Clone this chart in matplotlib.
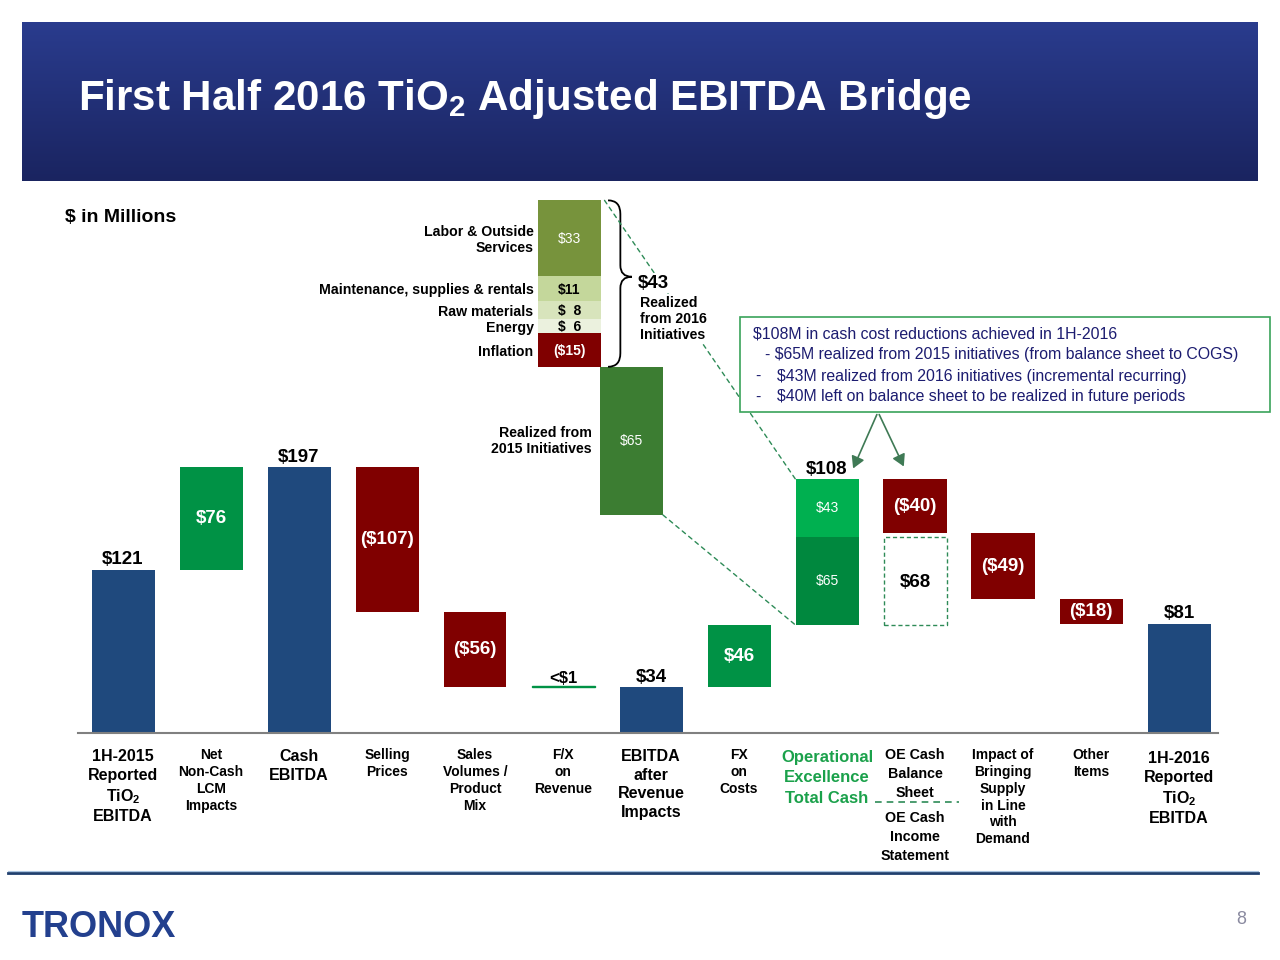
import numpy as np
import matplotlib
matplotlib.use("Agg")
import matplotlib.pyplot as plt
from matplotlib.patches import Rectangle, PathPatch, ConnectionPatch, FancyArrowPatch
from matplotlib.path import Path
from matplotlib.transforms import Affine2D, blended_transform_factory
from matplotlib.colors import LinearSegmentedColormap

plt.rcParams['font.family'] = ['Liberation Sans', 'DejaVu Sans']
plt.rcParams['mathtext.fontset'] = 'custom'
plt.rcParams['mathtext.rm'] = 'Liberation Sans'
plt.rcParams['mathtext.bf'] = 'Liberation Sans:bold'

# ---------------- data ----------------
categories = [
    "1H-2015\nReported\nTiO$_\\mathbf{2}$\nEBITDA",
    "Net\nNon-Cash\nLCM\nImpacts",
    "Cash\nEBITDA",
    "Selling\nPrices",
    "Sales\nVolumes /\nProduct\nMix",
    "F/X\non\nRevenue",
    "EBITDA\nafter\nRevenue\nImpacts",
    "FX\non\nCosts",
    "Operational\nExcellence\nTotal Cash",
    "OE Cash\nBalance\nSheet",
    "Impact of\nBringing\nSupply\nin Line\nwith\nDemand",
    "Other\nItems",
    "1H-2016\nReported\nTiO$_\\mathbf{2}$\nEBITDA",
]
kinds = ['total', 'delta', 'total', 'delta', 'delta', 'delta', 'total',
         'delta', 'stack', 'delta', 'delta', 'delta', 'total']
values = [121, 76, 197, -107, -56, 0.5, 34, 46, 108, -40, -49, -18, 81]
value_labels = ['$121', '$76', '$197', '($107)', '($56)', '<$1', '$34',
                '$46', '$108', '($40)', '($49)', '($18)', '$81']
oe_parts = [65, 43]
oe_part_labels = ['$65', '$43']
oe_income_statement = 68
oe_income_label = '$68'

breakdown_names = ['Labor & Outside\nServices', 'Maintenance, supplies & rentals',
                   'Raw materials', 'Energy', 'Inflation']
breakdown_values = [33, 11, 8, 6, -15]
breakdown_labels = ['$33', '$11', '$  8', '$  6', '($15)']
initiatives_2015 = 65
initiatives_2015_label = '$65'
initiatives_2016_label = '$43'

box_lines = ["$108M in cash cost reductions achieved in 1H-2016",
             "- $65M realized from 2015 initiatives (from balance sheet to COGS)",
             "$43M realized from 2016 initiatives (incremental recurring)",
             "$40M left on balance sheet to be realized in future periods"]

# ---------------- style ----------------
NAVY = '#1F497D'
GREEN = '#009245'
RED = '#800000'
OE_DARK = '#00883E'
OE_LIGHT = '#00B050'
INIT15 = '#3C7D32'
BREAK_COLORS = ['#77933C', '#C4D79B', '#D8E4BC', '#EBF1DE', RED]
BREAK_TEXT = ['white', 'black', 'black', 'black', 'white']
BREAK_WEIGHT = ['normal', 'bold', 'bold', 'bold', 'bold']
DASH_GREEN = '#2E8B57'
W, H = 1280, 960

fig = plt.figure(figsize=(12.8, 9.6), dpi=100)
PX = Affine2D().scale(1 / W, -1 / H).translate(0, 1) + fig.transFigure

def frac_rect(l, t, r, b):
    return [l / W, 1 - b / H, (r - l) / W, (b - t) / H]

# title band
tax = fig.add_axes(frac_rect(22, 22, 1258, 181))
grad = np.linspace(0, 1, 256).reshape(-1, 1)
cmap = LinearSegmentedColormap.from_list('band', ['#2A3C8E', '#1A2460'])
tax.imshow(grad, aspect='auto', cmap=cmap, extent=(0, 1, 0, 1))
tax.axis('off')
fig.text(78, 110, "First Half 2016 TiO$_\\mathbf{2}$ Adjusted EBITDA Bridge",
         transform=PX, color='white', fontsize=30.3, fontweight='bold', va='baseline')

fig.text(65, 217, "$ in Millions", transform=PX, fontsize=14, fontweight='bold', va='center')

# main axes: x index i -> pixel 123 + 88 i ; y value -> 733 - 1.35 v
L, R, B, T = 78, 1218, 733, 190
ax = fig.add_axes(frac_rect(L, T, R, B))
ax.set_xlim((L - 123) / 88, (R - 123) / 88)
ax.set_ylim(0, (B - T) / 1.35)
ax.patch.set_alpha(0)
for s in ['top', 'right', 'left']:
    ax.spines[s].set_visible(False)
ax.spines['bottom'].set_color('#808080')
ax.spines['bottom'].set_linewidth(1.5)
ax.set_xticks([])
ax.set_yticks([])

bw = 63 / 88
running = 0
oe_index = kinds.index('stack')
oe_base = 0
for i, (k, v, lab) in enumerate(zip(kinds, values, value_labels)):
    if k == 'total':
        ax.bar(i, v, bw, bottom=0, color=NAVY)
        ax.text(i, v + 1, lab, ha='center', va='bottom', fontsize=13.5, fontweight='bold')
        running = v
    elif k == 'stack':
        base = running
        cols = [OE_DARK, OE_LIGHT]
        for p, pl, c in zip(oe_parts, oe_part_labels, cols):
            ax.bar(i, p, bw, bottom=base, color=c)
            ax.text(i, base + p / 2, pl, ha='center', va='center', color='white', fontsize=10)
            base += p
        oe_base = running
        running = base
        ax.text(i, running + 1, lab, ha='center', va='bottom', fontsize=13.5, fontweight='bold')
    else:
        if abs(v) < 1:
            ax.bar(i, v, bw, bottom=running, color=GREEN, edgecolor=GREEN, linewidth=1)
            ax.text(i, running + 1, lab, ha='center', va='bottom', fontsize=12, fontweight='bold')
        else:
            bot = running if v > 0 else running + v
            ax.bar(i, abs(v), bw, bottom=bot, color=GREEN if v > 0 else RED)
            ax.text(i, bot + abs(v) / 2, lab, ha='center', va='center', color='white',
                    fontsize=13.5, fontweight='bold')
        running += v
        if i == oe_index + 1:
            ax.add_patch(Rectangle((i - bw / 2, oe_base), bw, oe_income_statement - 3,
                                   fill=False, edgecolor=DASH_GREEN, linestyle=(0, (3, 2)), lw=1))
            ax.text(i, oe_base + (oe_income_statement - 3) / 2 - 1, oe_income_label, ha='center',
                    va='center', fontsize=13.5, fontweight='bold')

# category labels
xt = blended_transform_factory(ax.transData, PX)
label_style = {
    0: (749, 11.5, 'black', 1.3), 2: (749, 11.5, 'black', 1.3), 6: (749, 11.5, 'black', 1.3),
    8: (750, 12, '#1BA14B', 1.44), 9: (748, 10.3, 'black', 1.44),
    12: (751, 11.5, 'black', 1.3),
}
for i, c in enumerate(categories):
    top, fs, col, ls = label_style.get(i, (748, 10, 'black', 1.26))
    ax.text(i, top, c, transform=xt, ha='center', va='top', fontsize=fs, color=col,
            fontweight='bold', linespacing=ls)
ax.text(oe_index + 1, 811, "OE Cash\nIncome\nStatement", transform=xt, ha='center', va='top',
        fontsize=10.3, fontweight='bold', linespacing=1.44)
ax.plot([oe_index + 0.55, oe_index + 1.5], [802, 802], transform=xt, color=DASH_GREEN,
        lw=1.2, linestyle=(0, (4, 3)), clip_on=False)

# inset axes for initiatives breakdown: y value -> 515 - 2.28 v
ax2 = fig.add_axes(frac_rect(L, 190, R, 515))
ax2.set_xlim(ax.get_xlim())
ax2.set_ylim(0, (515 - 190) / 2.28)
ax2.axis('off')
ax2.patch.set_alpha(0)

xb = (569.5 - 123) / 88
xi = (631.5 - 123) / 88
ax2.bar(xi, initiatives_2015, bw, color=INIT15)
ax2.text(xi, initiatives_2015 * 0.5, initiatives_2015_label, ha='center', va='center',
         color='white', fontsize=10)
ax2.text(xi - bw / 2 - 0.09, initiatives_2015 * 0.5, "Realized from\n2015 Initiatives",
         ha='right', va='center', fontsize=10.2, fontweight='bold', linespacing=1.15)

neg = sum(-v for v in breakdown_values if v < 0)
pos_base = initiatives_2015 + neg
seg = {}
b = pos_base
for idx in range(len(breakdown_values) - 1, -1, -1):
    v = breakdown_values[idx]
    if v >= 0:
        seg[idx] = (b, v)
        b += v
neg_top = pos_base
for idx, v in enumerate(breakdown_values):
    if v < 0:
        seg[idx] = (neg_top + v, -v)
        neg_top += v
stack_top = b
for idx, (bot, h) in seg.items():
    ax2.bar(xb, h, bw, bottom=bot, color=BREAK_COLORS[idx])
    ax2.text(xb, bot + h / 2 - 0.6, breakdown_labels[idx], ha='center', va='center',
             color=BREAK_TEXT[idx], fontsize=10, fontweight=BREAK_WEIGHT[idx])
    ax2.text(xb - bw / 2 - 0.05, bot + h / 2 - 0.9, breakdown_names[idx],
             ha='right', va='center', fontsize=10.2, fontweight='bold', linespacing=1.15)

# brace
xr = xb + bw / 2
x0, x1, x2 = xr + 0.08, xr + 0.22, xr + 0.35
yb0, yb1 = initiatives_2015, stack_top
ym = (yb0 + yb1) / 2 + 3
verts = [(x0, yb1), (x1, yb1), (x1, yb1 - 6), (x1, ym + 5), (x1, ym), (x2, ym),
         (x1, ym), (x1, ym - 5), (x1, yb0 + 6), (x1, yb0), (x0, yb0)]
codes = [Path.MOVETO, Path.CURVE3, Path.CURVE3, Path.LINETO, Path.CURVE3, Path.CURVE3,
         Path.CURVE3, Path.CURVE3, Path.LINETO, Path.CURVE3, Path.CURVE3]
ax2.add_patch(PathPatch(Path(verts, codes), fill=False, lw=1.3, edgecolor='black'))

# dashed connectors
oe_left = oe_index - bw / 2
con1 = ConnectionPatch(xyA=(xr + 0.04, stack_top), coordsA=ax2.transData,
                       xyB=(oe_left, oe_base + sum(oe_parts)), coordsB=ax.transData,
                       color=DASH_GREEN, lw=1, linestyle=(0, (3, 3)))
con2 = ConnectionPatch(xyA=(xi + bw / 2, 0), coordsA=ax2.transData,
                       xyB=(oe_left, oe_base), coordsB=ax.transData,
                       color=DASH_GREEN, lw=1, linestyle=(0, (3, 3)))
fig.add_artist(con1)
fig.add_artist(con2)

fig.text(638, 283, initiatives_2016_label, transform=PX, fontsize=13.5, fontweight='bold',
         va='center', ha='left', bbox=dict(facecolor='white', edgecolor='none', pad=1))
fig.text(640, 319, "Realized\nfrom 2016\nInitiatives", transform=PX, fontsize=10.2,
         fontweight='bold', va='center', ha='left', linespacing=1.2,
         bbox=dict(facecolor='white', edgecolor='none', pad=1))

# note box
fig.add_artist(Rectangle((740, 317), 530, 95, transform=PX, fill=True, facecolor='white',
                         edgecolor='#3AA35A', lw=1.2))
TXT = '#1C1C70'
FS = 11.4
fig.text(753, 334, box_lines[0], transform=PX, fontsize=FS, color=TXT, va='center')
fig.text(765, 355, box_lines[1], transform=PX, fontsize=FS, color=TXT, va='center')
for yy, line in zip([376, 397], box_lines[2:]):
    fig.text(755, yy, "-", transform=PX, fontsize=FS, color=TXT, va='center')
    fig.text(777, yy, line, transform=PX, fontsize=FS, color=TXT, va='center')

ARROW = '#3F7A55'
for tx, ty in [(852, 471), (905, 469)]:
    fig.add_artist(FancyArrowPatch((878, 412), (tx, ty), transform=PX,
                                   arrowstyle='-|>,head_length=7,head_width=4',
                                   color=ARROW, lw=1.2, mutation_scale=1))

# footer
fig.add_artist(plt.Line2D([8, 1258], [873, 873], transform=PX, color='#1F3F6E', lw=2))
fig.add_artist(plt.Line2D([8, 1258], [871, 871], transform=PX, color='#A9C4E0', lw=0.8))
fig.text(22, 937, "TRONOX", transform=PX, fontsize=26, fontweight='bold', color='#23408E',
         va='baseline', ha='left')
fig.text(1241, 920, "8", transform=PX, fontsize=13, color='#8A8AA0', va='center', ha='center')

fig.savefig("out.png", dpi=100)
